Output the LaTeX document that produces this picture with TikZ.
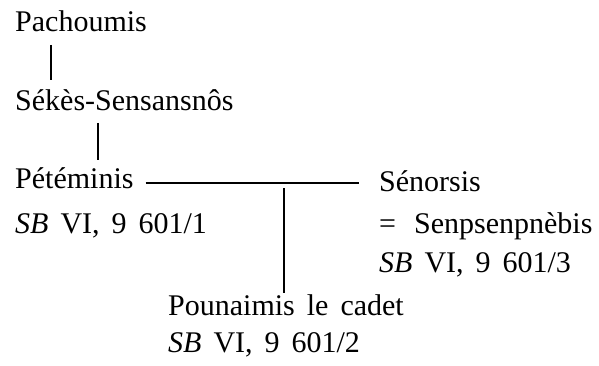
\documentclass[tikz,border=0pt]{standalone}
\usepackage{fontspec}
\setmainfont{Liberation Serif}
\usetikzlibrary{calc}
\newcommand\genfont{\fontsize{30}{35}\selectfont\spaceskip=0.4em plus 0.1em}
\begin{document}
\begin{tikzpicture}[x=1pt,y=-1pt,
  person/.style={inner sep=0pt, anchor=base west, font=\genfont},
  rule/.style={line width=2.2pt}]
\useasboundingbox (0,0) rectangle (599,366);
% names and references
\node[person] (pach)   at (15,32)  {Pachoumis};
\node[person] (sekes)  at (15,111) {Sékès-Sensansnôs};
\node[person] (pet)    at (15,189) {Pétéminis};
\node[person] (petref) at (15,233) {\textit{SB} VI, 9 601/1};
\node[person] (sen)    at (379,191) {Sénorsis};
\node[person] (senalt) at (379,233) {=\hspace{0.6em}Senpsenpnèbis};
\node[person] (senref) at (379,272) {\textit{SB} VI, 9 601/3};
\node[person] (pou)    at (168,315) {Pounaimis le cadet};
\node[person] (pouref) at (168,352) {\textit{SB} VI, 9 601/2};
% descent lines
\draw[rule] ($(pach.base west)+(36,13)$) -- ($(sekes.base west)+(36,-31)$);
\draw[rule] ($(sekes.base west)+(83,12)$) -- ($(pet.base west)+(83,-29)$);
% marriage line and child
\coordinate (hA) at ($(pet.base east)+(12,-6)$);
\coordinate (hB) at ($(sen.base west)+(-20,-8)$);
\draw[rule] (hA) -- (hA -| hB);
\coordinate (vA) at ($(pou.base west)+(116,-127)$);
\coordinate (vB) at ($(pou.base west)+(116,-22)$);
\draw[rule] (vA) -- (vB);
\end{tikzpicture}
\end{document}
